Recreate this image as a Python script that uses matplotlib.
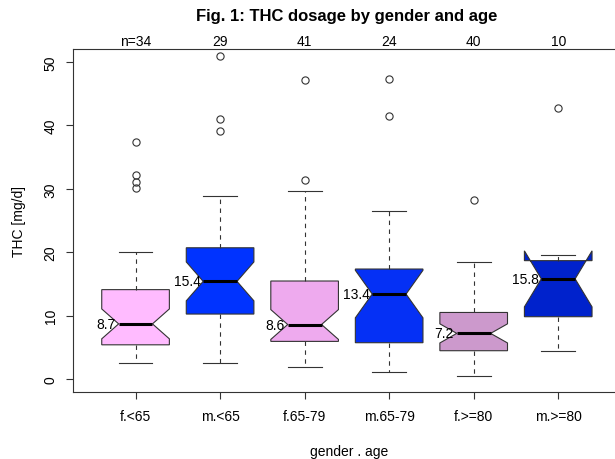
import numpy as np
import matplotlib
matplotlib.use("Agg")
import matplotlib.pyplot as plt
import matplotlib.transforms as mtransforms

plt.rcParams['font.family'] = ['Liberation Sans', 'DejaVu Sans']

groups = ['f.<65', 'm.<65', 'f.65-79', 'm.65-79', 'f.>=80', 'm.>=80']
n_obs = [34, 29, 41, 24, 40, 10]
q1 = [5.4, 10.25, 5.94, 5.73, 4.47, 9.83]
medians = [8.7, 15.4, 8.6, 13.4, 7.2, 15.8]
q3 = [14.1, 20.7, 15.46, 17.35, 10.5, 18.67]
whis_lo = [2.47, 2.47, 1.84, 1.05, 0.47, 4.37]
whis_hi = [20.1, 28.9, 29.65, 26.45, 18.45, 19.56]
outliers = [[37.4, 32.1, 31.1, 30.1],
            [50.9, 41.0, 39.1],
            [47.2, 31.4],
            [47.3, 41.4],
            [28.3],
            [42.7]]
box_colors = ['#FFBBFF', '#0033FF', '#EEAAEE', '#0530F5', '#CC99CC', '#0022CC']

# R style notches: median +/- 1.58 * IQR / sqrt(n)
stats = []
for i in range(len(groups)):
    half = 1.58 * (q3[i] - q1[i]) / np.sqrt(n_obs[i])
    stats.append(dict(med=medians[i], q1=q1[i], q3=q3[i],
                      whislo=whis_lo[i], whishi=whis_hi[i],
                      fliers=outliers[i],
                      cilo=medians[i] - half, cihi=medians[i] + half))

fig = plt.figure(figsize=(6.15, 4.6), dpi=100)
ax = fig.add_axes([73 / 615, 67 / 460, 552 / 615, 343 / 460])

pos = np.arange(1, len(groups) + 1)
edge = '#333333'
fs = 10
bp = ax.bxp(stats, positions=pos, widths=0.8, shownotches=True,
            patch_artist=True, capwidths=0.4,
            boxprops=dict(edgecolor=edge, linewidth=0.8),
            whiskerprops=dict(color=edge, linewidth=0.8, linestyle=(0, (4, 4))),
            capprops=dict(color=edge, linewidth=0.8),
            medianprops=dict(color='black', linewidth=2.2),
            flierprops=dict(marker='o', markerfacecolor='none',
                            markeredgecolor=edge, markersize=5.2,
                            markeredgewidth=0.8))
for patch, col in zip(bp['boxes'], box_colors):
    patch.set_facecolor(col)

# median labels left of the notch
for p, m in zip(pos, medians):
    ax.annotate(f'{m:.1f}', xy=(p - 0.2, m), xytext=(-2, 0),
                textcoords='offset points', ha='right', va='center',
                fontsize=fs)

# group sizes above the plot
trans = mtransforms.blended_transform_factory(ax.transData, ax.transAxes)
for i, (p, n) in enumerate(zip(pos, n_obs)):
    lab = f'n={n}' if i == 0 else str(n)
    ax.annotate(lab, xy=(p, 1.0), xycoords=trans, xytext=(0, 5.5),
                textcoords='offset points', ha='center', va='center',
                fontsize=fs)

ax.set_xlim(0.26, 6.79)
ax.set_ylim(-2.04, 52.04)
ax.set_xticks(pos)
ax.set_xticklabels(groups)
ax.set_yticks([0, 10, 20, 30, 40, 50])
ax.set_yticklabels(['0', '10', '20', '30', '40', '50'], rotation=90, va='center')
ax.tick_params(axis='both', direction='out', length=5, width=0.8,
               color=edge, labelsize=fs)
ax.tick_params(axis='x', pad=7)
ax.tick_params(axis='y', pad=6)
for s in ax.spines.values():
    s.set_color(edge)
    s.set_linewidth(0.8)
ax.spines['right'].set_visible(False)

ax.set_xlabel('gender . age', fontsize=fs, labelpad=15.5)
ax.set_ylabel('THC [mg/d]', fontsize=fs, labelpad=13)
fig.text(347 / 615, 1 - 17 / 460, 'Fig. 1: THC dosage by gender and age',
         ha='center', va='center', fontsize=12, fontweight='bold')

fig.savefig('out.png', dpi=100)
